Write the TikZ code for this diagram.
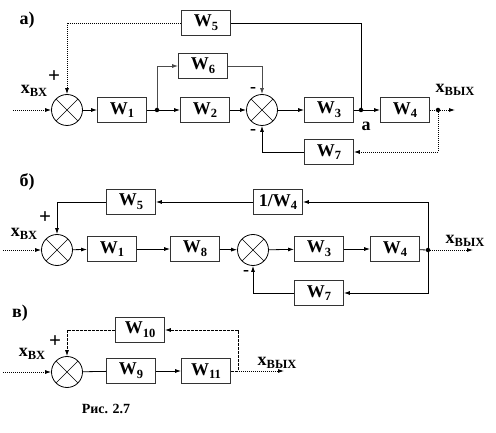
\documentclass[tikz,border=0pt]{standalone}
\usepackage{fontspec}
\setmainfont{Liberation Serif}
\usetikzlibrary{arrows.meta}
\newcommand{\lowsub}[1]{\raisebox{-0.45ex}{\fontsize{12.5}{12.5}\selectfont #1}}
\tikzset{
	blk/.style={draw=black!80, line width=0.9pt, minimum width=49, minimum height=25,
		inner sep=0pt, font=\fontsize{18}{18}\selectfont\bfseries},
	sum/.style={circle, draw, line width=0.8pt, minimum size=31, inner sep=0pt,
		path picture={\draw[line width=0.5pt] (path picture bounding box.south west) -- (path picture bounding box.north east)
			(path picture bounding box.north west) -- (path picture bounding box.south east);}},
	lbl/.style={inner sep=0pt, font=\fontsize{18}{18}\selectfont\bfseries},
	sgn/.style={inner sep=0pt, font=\fontsize{21}{21}\selectfont\bfseries},
	sig/.style={line width=0.8pt, -{Latex[length=6pt,width=4pt]}},
	wire/.style={line width=0.8pt},
	dots/.style={dash pattern=on 1pt off 1pt},
	jdot/.style={circle, fill, inner sep=0pt, minimum size=4.5}
}

\begin{document}
\begin{tikzpicture}[x=1pt,y=-1pt]
		\useasboundingbox (0,0) rectangle (496,433);
		
		\node[lbl] (ta) at (27,20) {а)};
		
		\node[sum] (sa) at (67,110) {};
		
		\node[blk] (a1) at (122,110) {W\lowsub{1}};
		
		\node[blk] (a2) at (205,110) {W\lowsub{2}};
		
		\node[blk] (a6) at (203,66) {W\lowsub{6}};
		
		\node[sum] (sa2) at (262,110) {};
		
		\node[blk] (a3) at (329,110) {W\lowsub{3}};
		
		\node[blk] (a4) at (405,110) {W\lowsub{4}};
		
		\node[blk] (a5) at (206,23) {W\lowsub{5}};
		
		\node[blk] (a7) at (329,152) {W\lowsub{7}};
		
		\coordinate (ina) at (13,110);
		\coordinate (outa) at (455,110);
		\node[jdot] (ja) at (157,110) {};
		\node[jdot] (na) at (361,110) {};
		\node[jdot] (oa) at (438,110) {};
		
		\node[lbl] at (34,91) {x\lowsub{ВХ}};
		\node[sgn] at (54,77) {+};
		\node[lbl] at (253,90) {-};
		\node[lbl] at (253,132) {-};
		\node[lbl] at (366,126) {а};
		\node[lbl] at (455,90) {x\lowsub{ВЫХ}};
		
		\draw[sig,dots] (ina) -- (sa);
		\draw[sig] (sa) -- (a1);
		\draw[wire] (a1) -- (ja);
		\draw[sig] (ja) -- (a2);
		\draw[sig,black!70] (ja) |- (a6);
		\draw[sig,black!70] (a6) -| (sa2);
		\draw[sig] (a2) -- (sa2);
		\draw[sig] (sa2) -- (a3);
		\draw[wire] (a3) -- (na);
		\draw[sig] (na) -- (a4);
		\draw[wire,dots] (a4) -- (oa);
		\draw[sig,dots] (oa) -- (outa);
		\draw[sig,dots] (oa) |- (a7);
		\draw[sig] (a7) -| (sa2);
		\draw[wire] (na) |- (a5);
		\draw[sig,dots] (a5) -| (sa);
		
		\node[lbl] (tb) at (27,182) {б)};
		
		\node[sum] (sb1) at (57,250) {};
		
		\node[blk] (b1) at (112,249) {W\lowsub{1}};
		
		\node[blk] (b8) at (195,249) {W\lowsub{8}};
		
		\node[sum] (sb2) at (253,250) {};
		
		\node[blk] (b3) at (319,249) {W\lowsub{3}};
		
		\node[blk] (b4) at (395,249) {W\lowsub{4}};
		
		\node[blk] (b5) at (131,202) {W\lowsub{5}};
		
		\node[blk] (bi4) at (278,202) {1/W\lowsub{4}};
		
		\node[blk] (b7) at (319,293) {W\lowsub{7}};
		
		\coordinate (inb) at (3,250);
		\coordinate (outb) at (473,250);
		\node[jdot] (ob) at (428,250) {};
		
		\node[lbl] at (24,234) {x\lowsub{ВХ}};
		\node[sgn] at (45,218) {+};
		\node[lbl] at (246,273) {-};
		\node[lbl] at (465,241) {x\lowsub{ВЫХ}};
		
		\draw[sig,dots] (inb) -- (sb1);
		\draw[sig] (sb1) -- (b1);
		\draw[sig] (b1) -- (b8);
		\draw[sig] (b8) -- (sb2);
		\draw[sig] (sb2) -- (b3);
		\draw[sig] (b3) -- (b4);
		\draw[wire] (b4) -- (ob);
		\draw[sig,dots] (ob) -- (outb);
		\draw[sig] (ob) |- (bi4);
		\draw[sig] (bi4) -- (b5);
		\draw[sig] (b5) -| (sb1);
		\draw[sig] (ob) |- (b7);
		\draw[sig] (b7) -| (sb2);
		
		\node[lbl] (tc) at (20,313) {в)};
		
		\node[sum] (sc) at (67,372) {};
		
		\node[blk] (c9) at (131,371) {W\lowsub{9}};
		
		\node[blk] (c11) at (206,371) {W\lowsub{11}};
		
		\node[blk] (c10) at (140,330) {W\lowsub{10}};
		
		\coordinate (inc) at (3,372);
		\coordinate (outc) at (284,371);
		\coordinate (rc) at (238,371);
		
		\node[lbl] at (32,354) {x\lowsub{ВХ}};
		\node[sgn] at (55,342) {+};
		\node[lbl] at (277,363) {x\lowsub{ВЫХ}};
		
		\draw[sig,dots] (inc) -- (sc);
		\draw[wire] (sc) -- (c9);
		\draw[sig] (c9) -- (c11);
		\draw[sig,dots] (c11) -- (outc);
		\draw[sig,dash pattern=on 3pt off 1pt] (c11.east) -- (rc) |- (c10);
		\draw[sig,dash pattern=on 3pt off 1pt] (c10) -| (sc);
		
		\node[inner sep=0pt, font=\fontsize{14}{14}\selectfont\bfseries] (cap) at (106,409) {Рис. 2.7};
\end{tikzpicture}
\end{document}
